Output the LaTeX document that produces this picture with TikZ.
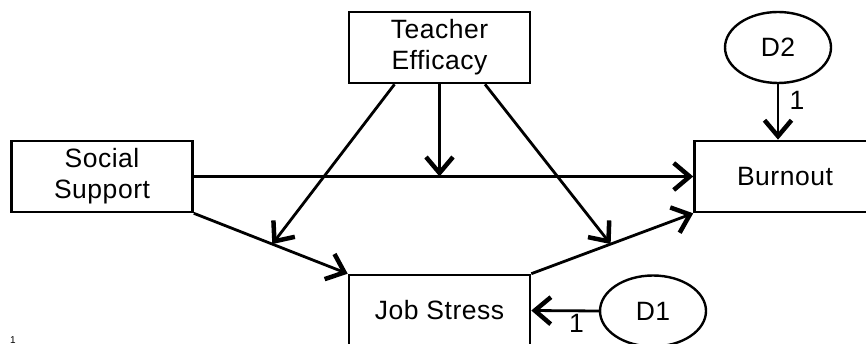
\documentclass[tikz,border=0pt]{standalone}
\usepackage{fontspec}
\setmainfont[LetterSpace=2]{Liberation Sans}
\usepackage{tikz}
\usetikzlibrary{arrows.meta, shapes.geometric, positioning}

\begin{document}
\begin{tikzpicture}[
    x=1pt, y=-1pt,
    var/.style={rectangle, draw, line width=2.6pt, minimum width=181pt, minimum height=71pt, align=center, font=\fontsize{26.5}{31}\selectfont, inner sep=0pt},
    dist/.style={ellipse, draw, line width=2.4pt, minimum width=106pt, minimum height=71pt, font=\fontsize{26.5}{31}\selectfont, inner sep=0pt},
    path/.style={line width=2.8pt, -{Straight Barb[length=16pt, width=27pt, line width=4.5pt]}},
    fixed/.style={font=\fontsize{26.5}{31}\selectfont}
]
    \useasboundingbox (0,0) rectangle (866,344);
    \clip (0,0) rectangle (866,344);

    % Variables
    \node[var] (efficacy) at (439.5, 47.5) {Teacher\\Efficacy};
    \node[var] (support) at (102, 176.5) {Social\\Support};
    \node[var] (burnout) at (785, 176.5) {Burnout};
    \node[var] (stress) at (439.5, 310.5) {Job Stress};

    % Disturbances
    \node[dist] (d2) at (778, 47.5) {D2};
    \node[dist] (d1) at (653, 311) {D1};

    % Direct paths
    \draw[path] (support.east) -- (burnout.west)
        coordinate[pos=0.492] (mod0);
    \draw[path] (support.south east) -- (stress.north west)
        coordinate[pos=0.51] (mod1);
    \draw[path] (stress.north east) -- (burnout.south west)
        coordinate[pos=0.49] (mod2);

    % Moderation by efficacy
    \coordinate (e1) at ([xshift=-45pt]efficacy.south);
    \coordinate (e2) at ([xshift=45.5pt]efficacy.south);
    \draw[path] (efficacy.south) -- (efficacy.south |- mod0);
    \draw[path] (e1) -- (mod1);
    \draw[path] (e2) -- (mod2);

    % Disturbance paths
    \draw[path] (d1.west) -- (stress.east) node[fixed, pos=0.33, below, yshift=1pt] (w1) {1};
    \draw[path] (d2.south) -- (burnout.north -| d2.south) node[fixed, pos=0.3, right, xshift=7pt] (w2) {1};

    \node[font=\rmfamily\fontsize{10}{12}\selectfont, inner sep=0pt] (note) at (13, 340) {1};
\end{tikzpicture}
\end{document}
